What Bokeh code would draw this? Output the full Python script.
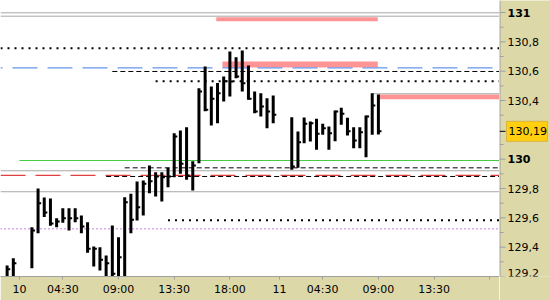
from bokeh.plotting import figure
from bokeh.models import Range1d, FixedTicker
from bokeh.layouts import row
from bokeh.core.properties import value
from bokeh.embed import file_html
from bokeh.resources import INLINE

# ---------------- data ----------------
# bar index (30-minute bars, trading-time axis)
bar_x = [-2, -1, 2, 3, 4, 5, 6, 7, 8, 9, 10, 11, 12, 13, 14, 15, 16, 17, 18, 19,
         20, 21, 22, 23, 24, 25, 26, 27, 28, 29, 30, 31, 32, 33, 34, 35, 36, 37, 38, 39,
         40, 41, 44, 45, 46, 47, 48, 49, 50, 51, 52, 53, 54, 55, 56, 57, 58]
bar_high = [129.275, 129.325, 129.536, 129.800, 129.739, 129.732, 129.598, 129.666, 129.666, 129.666,
            129.616, 129.570, 129.405, 129.400, 129.343, 129.548, 129.468, 129.741, 129.764, 129.848,
            129.855, 129.957, 129.911, 129.911, 129.941, 130.177, 130.196, 130.218, 129.986, 130.484,
            130.632, 130.495, 130.520, 130.564, 130.734, 130.695, 130.741, 130.639, 130.461, 130.450,
            130.416, 130.434, 130.286, 130.189, 130.284, 130.257, 130.275, 130.241, 130.223, 130.332,
            130.350, 130.282, 130.218, 130.218, 130.298, 130.450, 130.441]
bar_low = [129.150, 129.150, 129.257, 129.495, 129.605, 129.546, 129.536, 129.566, 129.514, 129.570,
           129.495, 129.362, 129.268, 129.241, 129.150, 129.150, 129.150, 129.150, 129.495, 129.582,
           129.616, 129.768, 129.746, 129.712, 129.809, 129.877, 129.900, 129.859, 129.787, 129.973,
           130.327, 130.230, 130.245, 130.393, 130.427, 130.552, 130.461, 130.405, 130.313, 130.291,
           130.211, 130.245, 129.928, 129.941, 130.109, 130.121, 130.064, 130.166, 130.064, 130.123,
           130.234, 130.161, 130.075, 130.075, 130.013, 130.166, 130.168]
bar_close = [129.250, 129.291, 129.514, 129.700, 129.637, 129.562, 129.575, 129.598, 129.598, 129.598,
             129.541, 129.389, 129.389, 129.314, 129.291, 129.219, 129.332, 129.707, 129.587, 129.673,
             129.832, 129.850, 129.882, 129.877, 129.882, 130.155, 129.969, 129.889, 129.957, 130.461,
             130.337, 130.412, 130.450, 130.532, 130.530, 130.564, 130.518, 130.412, 130.325, 130.359,
             130.325, 130.303, 129.950, 130.116, 130.241, 130.245, 130.173, 130.211, 130.177, 130.325,
             130.309, 130.191, 130.127, 130.184, 130.291, 130.366, 130.190]
last_price = 130.19
last_price_label = "130,19"

# time axis ticks (bar index) and labels
time_ticks = [0, 7, 16, 25, 34, 42, 49, 58, 67, 76]
time_labels = ["10", "04:30", "09:00", "13:30", "18:00", "11", "04:30", "09:00", "13:30", ""]

# price scale
price_ticks = [129.2, 129.4, 129.6, 129.8, 130.0, 130.4, 130.6, 130.8, 131.0]
price_minor = [129.3, 129.5, 129.7, 129.9, 130.1, 130.3, 130.5, 130.7, 130.9]
normal_prices = [129.4, 129.6, 129.8, 130.4, 130.6, 130.8]
normal_price_labels = ["129,4", "129,6", "129,8", "130,4", "130,6", "130,8"]
bold_prices = [131.0, 130.0]
bold_price_labels = ["131", "130"]
bottom_price = [129.2]
bottom_price_label = ["129,2"]

# price levels (start bar index; None = from left edge)
grey_levels = [130.998, 130.975, 130.446, 129.921, 129.778]
grey_from = [None, None, 57, None, None]
dotted_levels = [130.757, 130.532, 129.584]
dotted_from = [None, 22, 24]
dashed_levels = [130.598, 129.941, 129.882]
dashed_from = [15, 17, 14]
blue_level = 130.623
red_level = 129.889
green_level = 129.991
green_from = 0
purple_level = 129.525

# pink price zones
zone_top = [130.968, 130.666, 130.441]
zone_bottom = [130.941, 130.625, 130.409]
zone_from = [31.8, 32.8, 58.0]
zone_to = [57.9, 57.9, None]

# ---------------- main figure ----------------
X0, X1 = -3.07, 77.57
Y0, Y1 = 129.2, 131.082
AXIS_BG = "#DCD8A8"
GRID_GREY = "#A0A0A0"
FONT = "DejaVu Sans"

p = figure(width=499, height=300, output_backend="svg", toolbar_location=None,
           x_range=Range1d(X0, X1), y_range=Range1d(Y0, Y1),
           y_axis_location=None, x_axis_location="below",
           min_border_left=0, min_border_top=0, min_border_right=0, min_border_bottom=24)
p.grid.visible = False
p.background_fill_color = "white"
p.border_fill_color = AXIS_BG
p.outline_line_color = None


def starts(lst):
    return [X0 if v is None else v for v in lst]


def ends(lst):
    return [X1 + 1 if v is None else v for v in lst]


# zones
p.quad(left=zone_from, right=ends(zone_to), top=zone_top, bottom=zone_bottom,
       fill_color="#FF9494", line_color=None)

# levels
p.segment(x0=starts(grey_from), x1=[X1 + 1] * len(grey_levels), y0=grey_levels, y1=grey_levels,
          line_color="#A8A8A8", line_width=1)
p.segment(x0=[X0], x1=[X1 + 1], y0=[blue_level], y1=[blue_level],
          line_color="#6495ED", line_width=1.2, line_dash="25 10", line_dash_offset=23)
p.segment(x0=[X0], x1=[X1 + 1], y0=[red_level], y1=[red_level],
          line_color="#E04040", line_width=1.2, line_dash="25 10")
p.segment(x0=[green_from], x1=[X1 + 1], y0=[green_level], y1=[green_level],
          line_color="#44CC44", line_width=1.2)
p.segment(x0=[X0], x1=[X1 + 1], y0=[purple_level], y1=[purple_level],
          line_color="#9400D3", line_width=1, line_dash="1 3")
p.segment(x0=dashed_from, x1=[X1 + 1] * len(dashed_levels), y0=dashed_levels, y1=dashed_levels,
          line_color="black", line_width=1, line_dash="5 3")
p.segment(x0=starts(dotted_from), x1=[X1 + 1] * len(dotted_levels), y0=dotted_levels, y1=dotted_levels,
          line_color="black", line_width=2, line_dash="2 5")

# bars
p.segment(x0=bar_x, x1=bar_x, y0=bar_low, y1=bar_high, line_color="black", line_width=3)
p.segment(x0=bar_x, x1=[x + 0.5 for x in bar_x], y0=bar_close, y1=bar_close,
          line_color="black", line_width=2)

# time axis
xa = p.xaxis[0]
xa.ticker = FixedTicker(ticks=time_ticks, minor_ticks=[])
xa.major_label_overrides = {t: l for t, l in zip(time_ticks, time_labels)}
xa.major_tick_out = 3
xa.major_tick_in = 0
xa.major_label_standoff = 3
xa.axis_line_color = GRID_GREY
xa.major_tick_line_color = GRID_GREY
xa.major_label_text_font = FONT
xa.major_label_text_font_size = "11px"
xa.major_label_text_color = "black"

# ---------------- price scale (right column, shares the price range) ----------------
r = figure(width=51, height=300, output_backend="svg", toolbar_location=None,
           x_range=Range1d(0, 51), y_range=p.y_range,
           x_axis_location=None, y_axis_location=None,
           min_border_left=0, min_border_top=0, min_border_right=0, min_border_bottom=24)
r.grid.visible = False
r.background_fill_color = AXIS_BG
r.border_fill_color = AXIS_BG
r.outline_line_color = None

# scale line and ticks
r.segment(x0=[0.5], x1=[0.5], y0=[Y0], y1=[Y1], line_color=GRID_GREY, line_width=1)
r.segment(x0=[0] * len(price_ticks), x1=[6] * len(price_ticks), y0=price_ticks, y1=price_ticks,
          line_color=GRID_GREY, line_width=1)
r.segment(x0=[0] * len(price_minor), x1=[4] * len(price_minor), y0=price_minor, y1=price_minor,
          line_color=GRID_GREY, line_width=1)

# labels
r.text(x=[8] * len(normal_prices), y=normal_prices, text=normal_price_labels,
       text_font=value(FONT), text_font_size="11px", text_color="black",
       text_align="left", text_baseline="middle")
r.text(x=[8] * len(bold_prices), y=bold_prices, text=bold_price_labels,
       text_font=value(FONT), text_font_size="11px", text_font_style="bold", text_color="black",
       text_align="left", text_baseline="middle")
r.text(x=[8], y=bottom_price, text=bottom_price_label,
       text_font=value(FONT), text_font_size="11px", text_color="black",
       text_align="left", text_baseline="bottom")

# last price marker
r.rect(x=[27.5], y=[last_price], width=41, height=20, height_units="screen",
       fill_color="#FFCF10", line_color="#D8B440", line_width=1)
r.segment(x0=[0], x1=[6], y0=[last_price], y1=[last_price], line_color="black", line_width=1)
r.text(x=[9], y=[last_price], text=[last_price_label],
       text_font=value(FONT), text_font_size="11px", text_color="black",
       text_align="left", text_baseline="middle")

layout = row(p, r, spacing=0)
open("out.html", "w").write(file_html(layout, INLINE))
